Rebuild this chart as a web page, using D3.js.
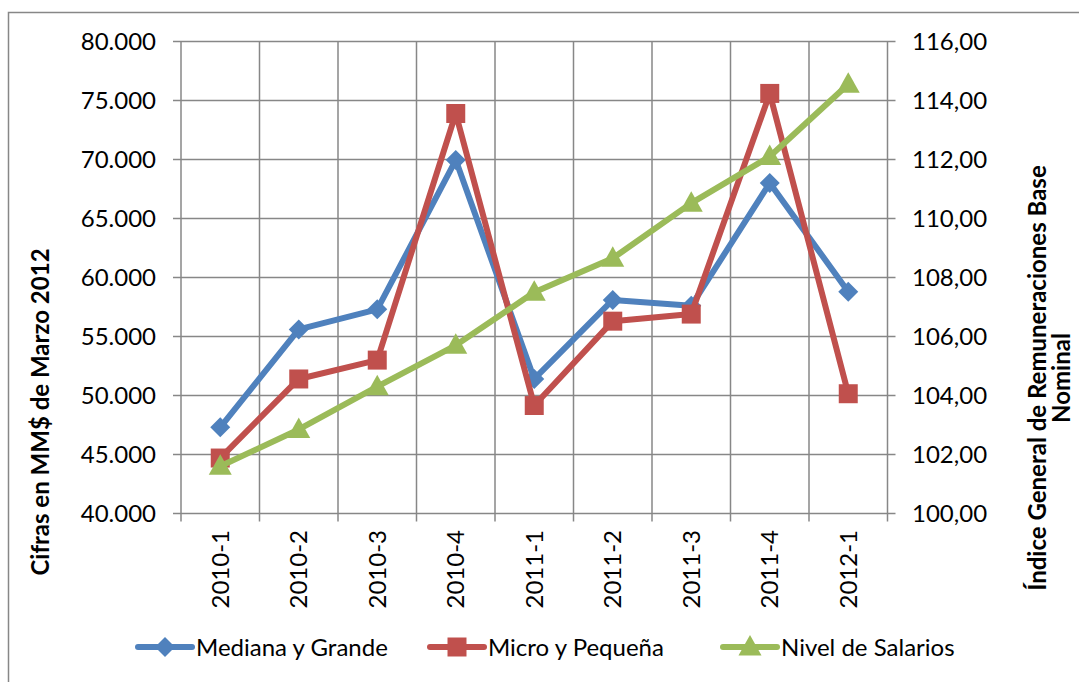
<!DOCTYPE html>
<html>
<head>
<meta charset="utf-8">
<script src="https://cdn.jsdelivr.net/npm/d3@7"></script>
<style>
  body { margin: 0; background: #fff; }
  svg text { font-family: Lato, "Noto Sans", sans-serif; fill: #000; }
</style>
</head>
<body>
<svg id="chart" width="1079" height="682"></svg>
<script>
var categories = ["2010-1","2010-2","2010-3","2010-4","2011-1","2011-2","2011-3","2011-4","2012-1"];
var medianaGrande = [47300, 55600, 57300, 69950, 51400, 58100, 57600, 68000, 58800];
var microPequena  = [44700, 51400, 53000, 73900, 49150, 56300, 56900, 75600, 50150];
var nivelSalarios = [101.6, 102.85, 104.3, 105.7, 107.5, 108.65, 110.52, 112.1, 114.55];
var leftTicks  = [40000, 45000, 50000, 55000, 60000, 65000, 70000, 75000, 80000];
var rightTicks = [100, 102, 104, 106, 108, 110, 112, 114, 116];

var svg = d3.select("#chart");
var plotLeft = 181, plotRight = 887.5, plotTop = 41.5, plotBottom = 513.5;

var x = d3.scaleBand().domain(categories).range([plotLeft, plotRight]);
var yL = d3.scaleLinear().domain([40000, 80000]).range([plotBottom, plotTop]);
var yR = d3.scaleLinear().domain([100, 116]).range([plotBottom, plotTop]);

var grid = "#878787";
var fmtL = function(v) { return d3.format(",.0f")(v).replace(/,/g, "."); };
var fmtR = function(v) { return d3.format(".2f")(v).replace(".", ","); };

// outer chart border
svg.append("path")
  .attr("d", "M8.5,682 L8.5,12.5 L1079,12.5")
  .attr("fill", "none").attr("stroke", grid).attr("stroke-width", 1.5);

// horizontal gridlines
svg.append("g").selectAll("line").data(leftTicks).enter().append("line")
  .attr("x1", plotLeft - 8).attr("x2", plotRight + 8)
  .attr("y1", function(d) { return yL(d); }).attr("y2", function(d) { return yL(d); })
  .attr("stroke", grid).attr("stroke-width", 1.5);

// vertical gridlines at category boundaries
var bounds = categories.map(function(c) { return x(c); }).concat([plotRight]);
svg.append("g").selectAll("line").data(bounds).enter().append("line")
  .attr("x1", function(d) { return d; }).attr("x2", function(d) { return d; })
  .attr("y1", plotTop).attr("y2", plotBottom + 8)
  .attr("stroke", grid).attr("stroke-width", 1.5);

// left axis labels
svg.append("g").selectAll("text").data(leftTicks).enter().append("text")
  .attr("x", 156).attr("y", function(d) { return yL(d); })
  .attr("dy", "0.36em").attr("text-anchor", "end")
  .style("font-size", "24px")
  .text(fmtL);

// right axis labels
svg.append("g").selectAll("text").data(rightTicks).enter().append("text")
  .attr("x", 912).attr("y", function(d) { return yR(d); })
  .attr("dy", "0.36em").attr("text-anchor", "start")
  .style("font-size", "24px")
  .text(fmtR);

// category labels
svg.append("g").selectAll("text").data(categories).enter().append("text")
  .attr("transform", function(d) { return "translate(" + (x(d) + x.bandwidth() / 2) + ",530) rotate(-90)"; })
  .attr("dy", "0.36em").attr("text-anchor", "end")
  .style("font-size", "24px")
  .text(function(d) { return d; });

// axis titles
svg.append("text")
  .attr("transform", "translate(49,412) rotate(-90)")
  .attr("text-anchor", "middle")
  .style("font-size", "24px").style("font-weight", "bold")
  .text("Cifras en MM$ de Marzo 2012");

var rt = svg.append("text")
  .attr("transform", "translate(1046,378) rotate(-90)")
  .attr("text-anchor", "middle")
  .style("font-size", "24px").style("font-weight", "bold");
rt.append("tspan").attr("x", 0).attr("dy", 0).text("Índice General de Remuneraciones Base");
rt.append("tspan").attr("x", 0).attr("dy", 24).text("Nominal");

// series
var diamond = "M0,-10L10,0L0,10L-10,0Z";
var square = "M-9.5,-9.5H9.5V9.5H-9.5Z";
var triangle = "M0,-12L11.5,8.5H-11.5Z";

var series = [
  { name: "Mediana y Grande", values: medianaGrande, y: yL, color: "#4F81BD", shape: diamond },
  { name: "Micro y Pequeña", values: microPequena, y: yL, color: "#C0504D", shape: square },
  { name: "Nivel de Salarios", values: nivelSalarios, y: yR, color: "#9BBB59", shape: triangle }
];

series.forEach(function(s) {
  var line = d3.line()
    .x(function(d, i) { return x(categories[i]) + x.bandwidth() / 2; })
    .y(function(d) { return s.y(d); });
  svg.append("path").datum(s.values)
    .attr("d", line)
    .attr("fill", "none").attr("stroke", s.color)
    .attr("stroke-width", 6).attr("stroke-linejoin", "round").attr("stroke-linecap", "round");
  svg.append("g").selectAll("path").data(s.values).enter().append("path")
    .attr("d", s.shape)
    .attr("transform", function(d, i) { return "translate(" + (x(categories[i]) + x.bandwidth() / 2) + "," + s.y(d) + ")"; })
    .attr("fill", s.color);
});

// legend
var legendX = [138, 430, 723];
var legendY = 647;
var lg = svg.append("g").selectAll("g").data(series).enter().append("g")
  .attr("transform", function(d, i) { return "translate(" + legendX[i] + "," + legendY + ")"; });
lg.append("line")
  .attr("x1", 0).attr("x2", 54).attr("y1", 0).attr("y2", 0)
  .attr("stroke", function(d) { return d.color; })
  .attr("stroke-width", 6).attr("stroke-linecap", "round");
lg.append("path")
  .attr("d", function(d) { return d.shape; })
  .attr("transform", "translate(27,0)")
  .attr("fill", function(d) { return d.color; });
lg.append("text")
  .attr("x", 58).attr("y", 0).attr("dy", "0.36em")
  .style("font-size", "24px")
  .text(function(d) { return d.name; });
</script>
</body>
</html>
